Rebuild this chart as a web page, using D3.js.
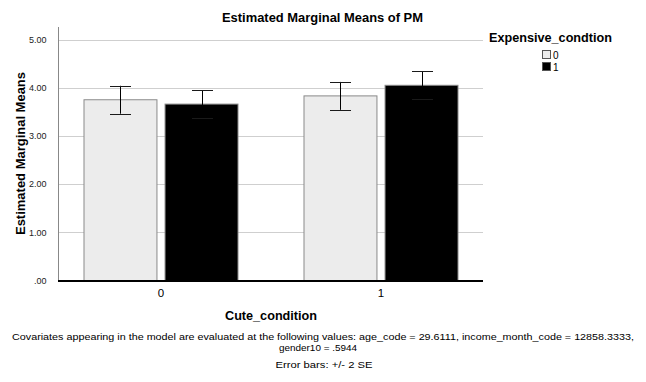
<!DOCTYPE html>
<html>
<head>
<meta charset="utf-8">
<script src="https://cdn.jsdelivr.net/npm/d3@7"></script>
<style>
  html, body { margin: 0; padding: 0; background: #fff; }
  svg { display: block; font-family: "Liberation Sans", Arial, sans-serif; }
</style>
</head>
<body>
<svg id="chart" width="646" height="382"></svg>
<script>
// ---- data ----
const categories = ["0", "1"];            // Cute_condition
const seriesKeys = ["0", "1"];            // Expensive_condtion
const means0 = [3.75, 3.83];              // Expensive_condtion = 0
const means1 = [3.66, 4.05];              // Expensive_condtion = 1
const se2_0 = [0.29, 0.29];               // +/- 2 SE
const se2_1 = [0.29, 0.29];
const yTicks = [0, 1, 2, 3, 4, 5];
const yTickLabels = [".00", "1.00", "2.00", "3.00", "4.00", "5.00"];
const title = "Estimated Marginal Means of PM";
const yTitle = "Estimated Marginal Means";
const xTitle = "Cute_condition";
const legendTitle = "Expensive_condtion";
const footnotes = [
  "Covariates appearing in the model are evaluated at the following values: age_code = 29.6111, income_month_code = 12858.3333,",
  "gender10 = .5944",
  "Error bars: +/- 2 SE"
];

const means = [means0, means1];
const errs = [se2_0, se2_1];
const rows = [];
categories.forEach((c, i) => seriesKeys.forEach((s, j) => {
  rows.push({cat: c, key: s, value: means[j][i], err: errs[j][i]});
}));

const svg = d3.select("#chart");
const plot = {left: 59, right: 483, top: 27, bottom: 281};

const y = d3.scaleLinear().domain([0, 5]).range([280.5, 39.5]);
const x0 = d3.scaleBand().domain(categories).range([51, 491]).padding(0);
const x1 = d3.scaleBand().domain(seriesKeys).range([33, 187]).paddingInner(0.1);
const fill = d3.scaleOrdinal().domain(seriesKeys).range(["#ececec", "#000000"]);

// gridlines
svg.append("g").selectAll("line").data(yTicks.filter(d => d > 0)).join("line")
  .attr("x1", plot.left).attr("x2", plot.right)
  .attr("y1", d => Math.round(y(d)) + 0.5).attr("y2", d => Math.round(y(d)) + 0.5)
  .attr("stroke", "#cfcfcf").attr("stroke-width", 1);

// y axis
const yAxis = d3.axisLeft(y).tickValues(yTicks).tickFormat((d, i) => yTickLabels[i]).tickSize(0).tickPadding(12);
const gy = svg.append("g").attr("transform", `translate(${plot.left - 0.5},0)`).call(yAxis);
gy.select(".domain").remove();
gy.selectAll("text").attr("font-size", 9).attr("fill", "#222");
svg.append("line").attr("x1", plot.left - 0.5).attr("x2", plot.left - 0.5)
  .attr("y1", plot.top).attr("y2", plot.bottom).attr("stroke", "#888").attr("stroke-width", 1);

// bars
const groups = svg.append("g").selectAll("g").data(categories).join("g")
  .attr("transform", d => `translate(${x0(d)},0)`);
groups.selectAll("rect").data(c => rows.filter(r => r.cat === c)).join("rect")
  .attr("x", d => x1(d.key)).attr("width", x1.bandwidth())
  .attr("y", d => y(d.value)).attr("height", d => y(0) - y(d.value))
  .attr("fill", d => fill(d.key)).attr("stroke", "#8a8a8a").attr("stroke-width", 1);

// error bars
const eb = groups.selectAll("g.err").data(c => rows.filter(r => r.cat === c)).join("g").attr("class", "err");
const cx = d => Math.round(x1(d.key) + x1.bandwidth() / 2) + 0.5;
eb.append("line").attr("x1", cx).attr("x2", cx)
  .attr("y1", d => y(d.value + d.err)).attr("y2", d => y(d.value - d.err))
  .attr("stroke", "#000").attr("stroke-width", 1);
eb.selectAll("line.cap").data(d => [{...d, v: d.value + d.err}, {...d, v: d.value - d.err}]).join("line")
  .attr("class", "cap")
  .attr("x1", d => cx(d) - 10.5).attr("x2", d => cx(d) + 10.5)
  .attr("y1", d => Math.round(y(d.v)) + 0.5).attr("y2", d => Math.round(y(d.v)) + 0.5)
  .attr("stroke", "#1a1a1a").attr("stroke-width", 1);

// x axis
svg.append("line").attr("x1", plot.left - 1).attr("x2", plot.right)
  .attr("y1", plot.bottom).attr("y2", plot.bottom).attr("stroke", "#000").attr("stroke-width", 2);
const xAxis = d3.axisBottom(x0).tickSize(0).tickPadding(8);
const gx = svg.append("g").attr("transform", `translate(0,${plot.bottom})`).call(xAxis);
gx.select(".domain").remove();
gx.selectAll("text").attr("font-size", 11.5).attr("fill", "#000");

// titles
svg.append("text").attr("x", 322.5).attr("y", 22).attr("text-anchor", "middle")
  .attr("font-size", 12.5).attr("font-weight", "bold")
  .attr("textLength", 201).attr("lengthAdjust", "spacingAndGlyphs").text(title);
svg.append("text").attr("transform", "translate(25,153.5) rotate(-90)").attr("text-anchor", "middle")
  .attr("font-size", 12.5).attr("font-weight", "bold")
  .attr("textLength", 163).attr("lengthAdjust", "spacingAndGlyphs").text(yTitle);
svg.append("text").attr("x", 271).attr("y", 320).attr("text-anchor", "middle")
  .attr("font-size", 12.5).attr("font-weight", "bold")
  .attr("textLength", 92).attr("lengthAdjust", "spacingAndGlyphs").text(xTitle);

// legend
svg.append("text").attr("x", 489).attr("y", 42).attr("font-size", 12.5).attr("font-weight", "bold")
  .attr("textLength", 123).attr("lengthAdjust", "spacingAndGlyphs").text(legendTitle);
const lg = svg.append("g").selectAll("g").data(seriesKeys).join("g")
  .attr("transform", (d, i) => `translate(542,${50 + i * 12})`);
lg.append("rect").attr("x", 0.5).attr("y", 0.5).attr("width", 8).attr("height", 8)
  .attr("fill", d => fill(d)).attr("stroke", "#555").attr("stroke-width", 1);
lg.append("text").attr("x", 11).attr("y", 8.5).attr("font-size", 10).text(d => d);

// footnotes
const fnX = [323, 318, 324];
const fnY = [340, 351, 367.5];
const fnW = [622, 78, 97];
svg.append("g").selectAll("text").data(footnotes).join("text")
  .attr("x", (d, i) => fnX[i]).attr("y", (d, i) => fnY[i]).attr("text-anchor", "middle")
  .attr("font-size", 9.5).attr("textLength", (d, i) => fnW[i]).attr("lengthAdjust", "spacingAndGlyphs")
  .text(d => d);
</script>
</body>
</html>
